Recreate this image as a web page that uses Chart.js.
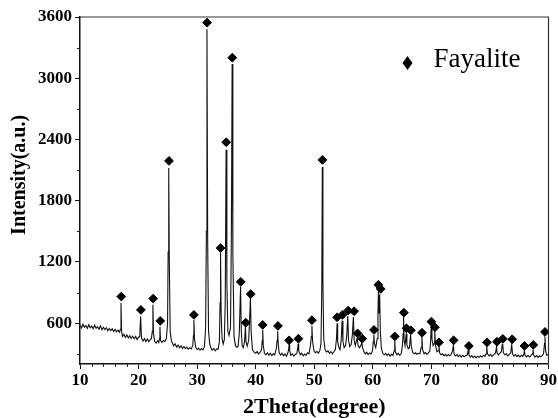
<!DOCTYPE html>
<html><head><meta charset="utf-8">
<script src="https://cdn.jsdelivr.net/npm/chart.js@4/dist/chart.umd.min.js"></script>
<style>html,body{margin:0;padding:0;background:#fff}canvas{display:block}</style>
</head><body>
<canvas id="c" width="558" height="418"></canvas>
<script>
// XRD scan: [2theta, intensity]
const scanPoints = [
[10.00,585],[10.25,552],[10.50,590],[10.75,560],[11.00,578],[11.25,548],[11.50,585],[11.75,555],
[12.00,572],[12.25,545],[12.50,580],[12.75,550],[13.00,566],[13.25,540],[13.50,572],[13.75,535],
[14.00,560],[14.25,538],[14.50,555],[14.75,525],[15.00,548],[15.25,528],[15.50,545],[15.75,518],
[16.00,540],[16.25,515],[16.50,532],[16.75,512],[16.90,540],[17.00,800],[17.10,520],[17.25,470],
[17.50,490],[17.75,462],[18.00,485],[18.25,455],[18.50,478],[18.75,450],[19.00,472],[19.25,448],
[19.50,470],[19.75,440],[20.00,462],[20.20,470],[20.35,665],[20.50,455],[20.75,425],[21.00,448],
[21.25,420],[21.50,445],[21.75,418],[22.00,440],[22.20,450],[22.35,520],[22.45,780],[22.55,500],
[22.75,420],[23.00,405],[23.25,428],[23.45,410],[23.58,450],[23.65,565],[23.75,430],[24.00,412],
[24.25,430],[24.50,420],[24.75,450],[24.95,600],[25.05,1300],[25.15,2120],[25.25,1200],[25.40,520],
[25.60,430],[25.85,395],[26.00,378],[26.25,398],[26.50,365],[26.75,385],[27.00,360],[27.25,378],
[27.50,352],[27.75,372],[28.00,350],[28.25,365],[28.50,345],[28.75,360],[29.00,348],[29.25,380],
[29.38,480],[29.45,630],[29.55,450],[29.75,365],[30.00,340],[30.25,355],[30.50,335],[30.75,352],
[31.00,338],[31.25,370],[31.45,560],[31.58,1500],[31.68,3480],[31.80,1400],[31.95,520],[32.15,395],
[32.40,350],[32.60,335],[32.85,352],[33.10,330],[33.35,348],[33.60,345],[33.80,420],[33.92,800],
[34.00,1290],[34.10,700],[34.25,450],[34.45,395],[34.65,440],[34.80,800],[34.95,2300],[35.08,1000],
[35.25,520],[35.45,480],[35.70,560],[35.85,1500],[35.98,3140],[36.10,1300],[36.30,470],[36.55,380],
[36.80,365],[37.00,375],[37.20,500],[37.42,960],[37.54,520],[37.70,375],[37.90,360],[38.10,420],
[38.25,566],[38.35,420],[38.55,375],[38.80,430],[38.95,620],[39.10,848],[39.22,520],[39.45,340],
[39.70,318],[40.00,305],[40.25,322],[40.50,298],[40.75,315],[41.00,340],[41.12,430],[41.20,534],
[41.30,380],[41.50,305],[41.75,290],[42.00,310],[42.25,285],[42.50,305],[42.75,282],[43.00,300],
[43.25,290],[43.55,360],[43.65,430],[43.75,520],[43.85,400],[44.00,310],[44.25,288],[44.50,305],
[44.75,280],[45.00,298],[45.25,276],[45.50,310],[45.62,340],[45.70,385],[45.80,330],[46.00,285],
[46.25,300],[46.50,278],[46.75,295],[47.00,300],[47.17,350],[47.25,400],[47.35,330],[47.60,290],
[47.85,305],[48.10,280],[48.35,298],[48.60,285],[48.85,310],[49.10,300],[49.35,380],[49.50,470],
[49.60,575],[49.72,420],[49.95,330],[50.20,310],[50.45,325],[50.70,305],[50.95,330],[51.15,400],
[51.28,900],[51.38,2130],[51.48,1000],[51.62,450],[51.85,340],[52.10,318],[52.35,330],[52.60,305],
[52.85,322],[53.10,300],[53.35,320],[53.60,340],[53.80,450],[53.90,600],[54.00,420],[54.20,360],
[54.40,340],[54.60,430],[54.75,625],[54.90,420],[55.10,360],[55.35,380],[55.55,480],[55.72,670],
[55.85,440],[56.05,370],[56.30,390],[56.50,480],[56.68,660],[56.82,430],[57.00,380],[57.25,440],
[57.35,455],[57.48,380],[57.70,360],[57.95,380],[58.12,410],[58.25,360],[58.45,325],[58.70,300],
[58.95,315],[59.20,292],[59.45,308],[59.70,298],[59.95,330],[60.08,420],[60.17,485],[60.28,400],
[60.50,360],[60.75,450],[60.88,700],[60.97,927],[61.07,700],[61.17,880],[61.28,520],[61.45,360],
[61.70,305],[61.95,290],[62.20,305],[62.45,282],[62.70,298],[62.95,278],[63.20,295],[63.45,285],
[63.65,330],[63.75,436],[63.85,320],[64.10,290],[64.35,305],[64.60,285],[64.85,300],[65.05,380],
[65.18,500],[65.25,660],[65.35,430],[65.50,380],[65.70,500],[65.82,390],[66.05,350],[66.25,360],
[66.45,485],[66.58,370],[66.80,315],[67.05,300],[67.30,310],[67.55,295],[67.80,305],[68.05,300],
[68.25,360],[68.38,468],[68.50,340],[68.75,300],[69.00,312],[69.25,295],[69.50,310],[69.75,330],
[69.88,440],[69.98,583],[70.10,440],[70.30,380],[70.50,400],[70.58,517],[70.72,380],[70.95,320],
[71.15,330],[71.28,386],[71.40,310],[71.65,290],[71.90,300],[72.15,280],[72.40,295],[72.65,278],
[72.90,292],[73.15,280],[73.40,295],[73.62,330],[73.75,386],[73.88,300],[74.10,280],[74.35,292],
[74.60,272],[74.85,288],[75.10,268],[75.35,285],[75.60,270],[75.85,282],[76.10,285],[76.30,337],
[76.42,290],[76.65,268],[76.90,282],[77.15,262],[77.40,278],[77.65,260],[77.90,276],[78.15,265],
[78.40,280],[78.65,268],[78.90,285],[79.15,275],[79.35,300],[79.45,370],[79.58,300],[79.85,280],
[80.10,295],[80.35,275],[80.60,290],[80.85,300],[81.00,320],[81.12,370],[81.22,310],[81.45,290],
[81.70,305],[81.95,320],[82.10,390],[82.18,395],[82.30,310],[82.55,290],[82.80,300],[83.05,280],
[83.30,295],[83.55,310],[83.72,390],[83.85,300],[84.10,278],[84.35,292],[84.60,272],[84.85,288],
[85.10,270],[85.35,285],[85.60,275],[85.80,300],[85.88,330],[86.00,285],[86.25,270],[86.50,285],
[86.75,268],[87.00,282],[87.25,300],[87.35,340],[87.48,285],[87.70,268],[87.95,282],[88.20,265],
[88.45,280],[88.70,270],[88.95,285],[89.15,300],[89.32,400],[89.40,468],[89.50,330],[89.70,285],
[89.90,290],[90.00,280]
];

// Fayalite peak markers (diamonds)
const fayaliteTheta = [17.05,20.4,22.5,23.7,25.2,29.45,31.7,34.0,34.97,36.0,37.45,38.3,39.15,41.2,43.8,
  45.7,47.3,49.6,51.4,53.9,54.8,55.8,56.8,57.4,58.2,60.2,60.95,61.35,63.75,65.3,65.75,66.5,68.4,
  70.0,70.6,71.3,73.8,76.4,79.5,81.2,82.2,83.8,85.9,87.4,89.4];
const fayaliteIntensity = [861,730,841,622,2190,681,3545,1336,2373,3201,1005,605,885,583,573,
  432,448,629,2200,658,681,723,717,500,448,534,976,936,470,703,550,530,506,
  615,560,412,432,377,412,418,446,442,377,387,514];

const xTickValues = [10,20,30,40,50,60,70,80,90];
const xMinorValues = [12,14,16,18,22,24,26,28,32,34,36,38,42,44,46,48,52,54,56,58,62,64,66,68,72,74,76,78,82,84,86,88];
const yTickValues = [600,1200,1800,2400,3000,3600];
const yMinorValues = [300,900,1500,2100,2700,3300];
const xTitle = '2Theta(degree)';
const yTitle = 'Intensity(a.u.)';
const legendLabel = 'Fayalite';

const serif = '"Liberation Serif", "Times New Roman", serif';

const decorPlugin = {
  id: 'decor',
  afterDraw(chart) {
    const {ctx, chartArea, scales} = chart;
    const {left, right, top, bottom} = chartArea;
    ctx.save();
    // minor ticks
    ctx.strokeStyle = '#222';
    ctx.lineWidth = 1;
    xMinorValues.forEach(v => {
      const px = Math.round(scales.x.getPixelForValue(v)) + 0.5;
      ctx.beginPath(); ctx.moveTo(px, bottom); ctx.lineTo(px, bottom + 3); ctx.stroke();
    });
    yMinorValues.forEach(v => {
      const py = Math.round(scales.y.getPixelForValue(v)) + 0.5;
      ctx.beginPath(); ctx.moveTo(left, py); ctx.lineTo(left - 3, py); ctx.stroke();
    });
    // top and right frame
    ctx.strokeStyle = '#333';
    ctx.lineWidth = 1.2;
    ctx.beginPath(); ctx.moveTo(left, top); ctx.lineTo(right, top); ctx.lineTo(right, bottom); ctx.stroke();
    // y title
    ctx.fillStyle = '#000';
    ctx.font = 'bold 20px ' + serif;
    ctx.translate(20, top + (bottom - top) * 0.455);
    ctx.rotate(-Math.PI / 2);
    ctx.textAlign = 'center';
    ctx.textBaseline = 'middle';
    ctx.fillText(yTitle, 0, 0);
    ctx.restore();
    // legend
    ctx.save();
    const dx = right - 141, dy = top + 46;
    ctx.fillStyle = '#000';
    ctx.beginPath();
    ctx.moveTo(dx, dy - 7); ctx.lineTo(dx + 5, dy); ctx.lineTo(dx, dy + 7); ctx.lineTo(dx - 5, dy);
    ctx.closePath(); ctx.fill();
    ctx.font = '27px ' + serif;
    ctx.textAlign = 'left';
    ctx.textBaseline = 'alphabetic';
    ctx.fillText(legendLabel, right - 115, top + 50);
    ctx.restore();
  }
};

new Chart(document.getElementById('c'), {
  data: {
    datasets: [
      {
        type: 'scatter',
        label: legendLabel,
        data: fayaliteTheta.map((t, i) => ({x: t, y: fayaliteIntensity[i]})),
        pointStyle: 'rectRot',
        pointRadius: 4.4,
        backgroundColor: '#000',
        borderColor: '#000',
        borderWidth: 1,
        order: 0
      },
      {
        type: 'line',
        label: 'scan',
        data: scanPoints.map(p => ({x: p[0], y: p[1]})),
        borderColor: '#111',
        borderWidth: 1.1,
        pointRadius: 0,
        tension: 0,
        fill: false,
        order: 1
      }
    ]
  },
  options: {
    responsive: false,
    animation: false,
    layout: {padding: {top: 17, right: 8, left: 0, bottom: 0}},
    plugins: {legend: {display: false}, tooltip: {enabled: false}},
    scales: {
      x: {
        type: 'linear', min: 10, max: 90,
        afterBuildTicks: s => { s.ticks = xTickValues.map(v => ({value: v})); },
        afterFit: s => { s.height = 54; },
        border: {display: true, color: '#111', width: 1.5},
        grid: {drawOnChartArea: false, drawTicks: true, tickLength: 5, color: '#111', tickWidth: 1},
        ticks: {color: '#000', padding: 1, maxRotation: 0, font: {family: serif, size: 17, weight: 'bold'}, callback: v => String(v)},
        title: {display: true, text: xTitle, color: '#000', font: {family: serif, size: 22, weight: 'bold', lineHeight: 1}, padding: {top: 0, bottom: 0}}
      },
      y: {
        type: 'linear', min: 200, max: 3600,
        afterBuildTicks: s => { s.ticks = yTickValues.map(v => ({value: v})); },
        afterFit: s => { s.width = 80; },
        border: {display: true, color: '#111', width: 1.5},
        grid: {drawOnChartArea: false, drawTicks: true, tickLength: 5, color: '#111', tickWidth: 1},
        ticks: {color: '#000', padding: 3, font: {family: serif, size: 17, weight: 'bold'}, callback: v => String(v)}
      }
    }
  },
  plugins: [decorPlugin]
});
</script>
</body></html>
